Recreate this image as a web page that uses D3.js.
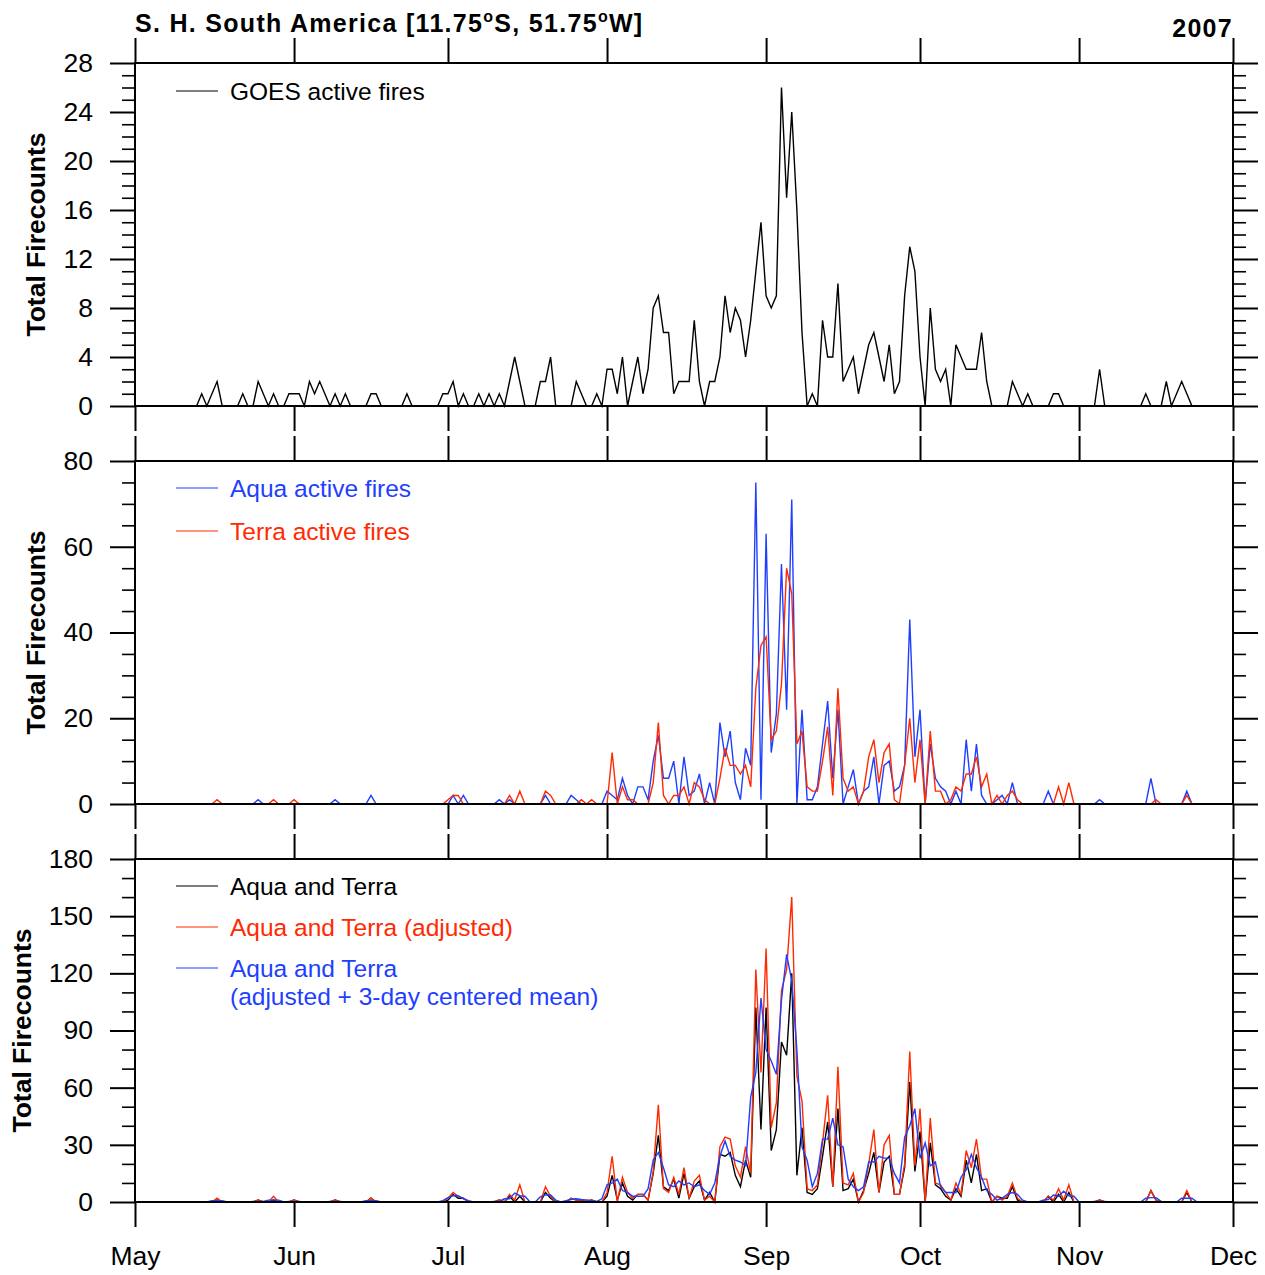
<!DOCTYPE html>
<html>
<head>
<meta charset="utf-8">
<script src="https://cdn.jsdelivr.net/npm/d3@7"></script>
<style>
  body { margin: 0; background: #fff; }
  svg { display: block; font-family: "Liberation Sans", Arial, Helvetica, sans-serif; }
</style>
</head>
<body>
<div class="vis"></div>
<script>
(function() {
  'use strict';

  // daily values, 1 May .. 30 Nov 2007 (one row per month)
  var goesFires = [].concat(
    [0,0,0,0,0,0,0,0,0,0, 0,0,0,1,0,1,2,0,0,0, 0,1,0,0,2,1,0,1,0,0, 1],
    [1,1,0,2,1,2,1,0,1,0, 1,0,0,0,0,1,1,0,0,0, 0,0,1,0,0,0,0,0,0,1],
    [1,2,0,1,0,0,1,0,1,0, 1,0,2,4,2,0,0,0,2,2, 4,0,0,0,0,2,1,0,0,1, 0],
    [3,3,1,4,0,2,4,1,3,8, 9,6,6,1,2,2,2,7,2,0, 2,2,4,9,6,8,7,4,7,11, 15],
    [9,8,9,26,17,24,16,6,0,1, 0,7,4,4,10,2,3,4,1,3, 5,6,4,2,5,1,2,9,13,11],
    [4,0,8,3,2,3,0,5,4,3, 3,3,6,2,0,0,0,0,2,1, 0,1,0,0,0,0,1,1,0,0, 0],
    [0,0,0,0,3,0,0,0,0,0, 0,0,0,1,0,0,0,2,0,1, 2,1,0,0,0,0,0,0,0,0]
  );

  var aquaFires = [].concat(
    [0,0,0,0,0,0,0,0,0,0, 0,0,0,0,0,0,0,0,0,0, 0,0,0,0,1,0,0,0,0,0, 0],
    [0,0,0,0,0,0,0,0,1,0, 0,0,0,0,0,2,0,0,0,0, 0,0,0,0,0,0,0,0,0,0],
    [0,2,0,2,0,0,0,0,0,0, 1,0,1,0,0,0,0,0,0,2, 0,0,0,0,2,1,0,0,0,0, 0],
    [3,2,1,6,2,0,4,4,1,10, 16,6,6,10,0,11,2,3,7,0, 5,0,19,11,17,5,1,13,9,75, 1],
    [63,12,21,56,22,71,0,22,1,1, 4,14,24,6,22,0,4,8,0,3, 4,11,0,9,10,3,4,9,43,11],
    [22,0,14,6,4,3,0,3,0,15, 3,14,2,0,0,1,2,0,5,0, 0,0,0,0,0,3,0,0,0,0, 0],
    [0,0,0,0,1,0,0,0,0,0, 0,0,0,0,6,0,0,0,0,0, 0,3,0,0,0,0,0,0,0,0]
  );

  var terraFires = [].concat(
    [0,0,0,0,0,0,0,0,0,0, 0,0,0,0,0,0,1,0,0,0, 0,0,0,0,0,0,0,1,0,0, 0],
    [1,0,0,0,0,0,0,0,0,0, 0,0,0,0,0,0,0,0,0,0, 0,0,0,0,0,0,0,0,0,0],
    [1,2,2,0,0,0,0,0,0,0, 0,0,2,0,3,0,0,0,0,3, 2,0,0,0,0,0,1,0,1,0, 0],
    [0,12,0,4,1,1,0,0,0,5, 19,2,0,2,2,4,0,5,4,1, 0,0,6,13,9,9,7,9,4,27, 37],
    [39,15,17,28,55,49,14,17,4,3, 3,10,18,2,27,6,3,4,0,3, 11,15,5,12,14,1,0,9,20,5],
    [15,0,17,3,3,0,1,4,3,7, 7,11,4,7,0,2,0,2,3,1, 0,0,0,0,0,0,0,4,0,5, 0],
    [0,0,0,0,0,0,0,0,0,0, 0,0,0,0,0,1,0,0,0,0, 0,2,0,0,0,0,0,0,0,0]
  );

  var bothFires = [].concat(
    [0,0,0,0,0,0,0,0,0,0, 0,0,0,0,0,0,1,0,0,0, 0,0,0,0,1,0,0,1,0,0, 0],
    [1,0,0,0,0,0,0,0,1,0, 0,0,0,0,0,2,0,0,0,0, 0,0,0,0,0,0,0,0,0,0],
    [1,4,2,2,0,0,0,0,0,0, 1,0,3,0,3,0,0,0,0,5, 2,0,0,0,2,1,1,0,1,0, 0],
    [3,14,1,10,3,1,4,4,1,15, 35,8,6,12,2,15,2,8,11,1, 5,0,25,24,26,14,8,22,13,102, 38],
    [102,27,38,84,77,120,14,39,5,4, 7,24,42,8,49,6,7,12,0,6, 15,26,5,21,24,4,4,18,63,16],
    [37,0,31,9,7,3,1,7,3,22, 10,25,6,7,0,3,2,2,8,1, 0,0,0,0,0,3,0,4,0,5, 0],
    [0,0,0,0,1,0,0,0,0,0, 0,0,0,0,6,1,0,0,0,0, 0,5,0,0,0,0,0,0,0,0]
  );

  var bothAdjusted = [].concat(
    [0,0,0,0,0,0,0,0,0,0, 0,0,0,0,0,0,2,0,0,0, 0,0,0,0,1,0,0,3,0,0, 0],
    [1,0,0,0,0,0,0,0,1,0, 0,0,0,0,0,2,0,0,0,0, 0,0,0,0,0,0,0,0,0,0],
    [2,5,3,2,0,0,0,0,0,0, 1,0,4,1,9,0,0,0,0,8, 3,0,0,0,2,1,1,1,1,0, 0],
    [5,24,0,13,5,2,4,4,1,16, 51,7,5,13,4,18,2,11,14,1, 3,0,29,34,33,19,13,29,15,122, 68],
    [133,39,52,111,122,160,66,53,7,6, 9,31,56,8,71,10,9,15,0,5, 20,38,5,30,35,4,4,20,79,19],
    [49,0,44,10,9,5,1,10,4,27, 18,33,12,12,0,3,1,3,10,2, 0,0,0,0,0,3,1,7,1,9, 0],
    [0,0,0,0,1,0,0,0,0,0, 0,0,0,0,6,1,0,0,0,0, 0,6,0,0,0,0,0,0,0,0]
  );

  var bothMean = [].concat(
    [0,0,0,0,0,0,0,0,0,0, 0,0,0,0,0,0.7,0.7,0.7,0,0, 0,0,0,0.3,0.3,0.3,1,1,1,0, 0.3],
    [0.3,0.3,0,0,0,0,0,0.3,0.3,0.3, 0,0,0,0,0.7,0.7,0.7,0,0,0, 0,0,0,0,0,0,0,0,0,0.7],
    [2.3,3.3,3.3,1.7,0.7,0,0,0,0,0.3, 0.3,1.7,1.7,4.7,3.3,3,0,0,2.7,3.7, 3.7,1,0,0.7,1.3,1.7,1.3,1,0.7,0.3, 1.7],
    [9,10,12,6,5,3,3,3,7,22, 26,18,9,8,11,9,10,8,9,6, 4,10,24,32,24,22,21,19,55,68, 107],
    [80,74,67,106,130,116,80,29,22,8, 15,33,33,44,30,29,12,8,6,8, 21,21,24,23,23,15,10,34,40,49],
    [23,31,19,21,8,5,5,5,13,17, 25,18,13,6,4,1,2,4,5,4, 1,0,0,0,1,1.3,3.7,3,5.7,3.3, 3],
    [0,0,0,0.3,0.3,0.3,0,0,0,0, 0,0,0,2,2.3,2.3,0.3,0,0,0, 2,2,2,0,0,0,0,0,0,0]
  );

  var monthLabels = ['May', 'Jun', 'Jul', 'Aug', 'Sep', 'Oct', 'Nov', 'Dec'];

  var black = '#000000', blue = '#1f3fff', red = '#ff2a00';

  var W = 1265, H = 1275,
    left = 135, right = 1233,
    panelH = 343;

  var svg = d3.select('.vis').append('svg')
    .attr('width', W)
    .attr('height', H);

  var start = new Date(Date.UTC(2007, 4, 1)),
    end = new Date(Date.UTC(2007, 11, 1));

  var days = d3.range(goesFires.length).map(function(i) {
    return new Date(Date.UTC(2007, 4, 1 + i));
  });

  var x = d3.scaleUtc().domain([start, end]).range([left, right]);
  var months = d3.utcMonths(start, new Date(Date.UTC(2007, 11, 2)));

  function panel(opt) {
    var top = opt.top;
    var y = d3.scaleLinear().domain([0, opt.yMax]).range([top + panelH, top]);
    var g = svg.append('g');

    var line = d3.line()
      .x(function(d, i) { return x(days[i]); })
      .y(function(d) { return y(d); });

    opt.series.forEach(function(s) {
      g.append('path')
        .datum(s.values)
        .attr('fill', 'none')
        .attr('stroke', s.color)
        .attr('stroke-width', 1.4)
        .attr('d', line);
    });

    // legend
    opt.series.forEach(function(s, i) {
      var ly = top + opt.legendY[i];
      g.append('line')
        .attr('x1', 176).attr('x2', 218)
        .attr('y1', ly).attr('y2', ly)
        .attr('stroke', s.color)
        .attr('stroke-width', 1.2);
      var t = g.append('text')
        .attr('x', 230).attr('y', ly)
        .attr('fill', s.color)
        .style('font-size', '24.5px');
      s.label.forEach(function(l, j) {
        t.append('tspan')
          .attr('x', 230)
          .attr('dy', j === 0 ? '0.35em' : '28')
          .text(l);
      });
    });

    var majors = d3.range(0, opt.yMax + 0.001, opt.major),
      minors = d3.range(0, opt.yMax + 0.001, opt.minor).filter(function(v) {
        return majors.indexOf(v) < 0;
      });

    function style(a) {
      a.select('.domain').remove();
      a.selectAll('line').attr('stroke', '#000').attr('stroke-width', 2);
      a.selectAll('text')
        .attr('fill', '#000')
        .style('font-size', '26.5px')
        .style('font-family', '"Liberation Sans", Arial, Helvetica, sans-serif');
      return a;
    }

    style(g.append('g')
      .attr('transform', 'translate(' + left + ',0)')
      .call(d3.axisLeft(y).tickValues(majors).tickSize(25).tickPadding(17)));
    style(g.append('g')
      .attr('transform', 'translate(' + left + ',0)')
      .call(d3.axisLeft(y).tickValues(minors).tickSize(13).tickFormat('')))
      .selectAll('line').attr('stroke-width', 1.6);
    style(g.append('g')
      .attr('transform', 'translate(' + right + ',0)')
      .call(d3.axisRight(y).tickValues(majors).tickSize(25).tickFormat('')));
    style(g.append('g')
      .attr('transform', 'translate(' + right + ',0)')
      .call(d3.axisRight(y).tickValues(minors).tickSize(13).tickFormat('')))
      .selectAll('line').attr('stroke-width', 1.6);

    style(g.append('g')
      .attr('transform', 'translate(0,' + top + ')')
      .call(d3.axisTop(x).tickValues(months).tickSize(25).tickFormat('')));
    style(g.append('g')
      .attr('transform', 'translate(0,' + (top + panelH) + ')')
      .call(d3.axisBottom(x).tickValues(months).tickSize(25).tickPadding(19)
        .tickFormat(function(d, i) { return opt.xLabels ? monthLabels[i] : ''; })));

    g.append('rect')
      .attr('x', left).attr('y', top)
      .attr('width', right - left).attr('height', panelH)
      .attr('fill', 'none')
      .attr('stroke', '#000')
      .attr('stroke-width', 2);

    g.append('text')
      .attr('transform', 'translate(' + opt.titleX + ',' + (top + panelH / 2) + ') rotate(-90)')
      .attr('text-anchor', 'middle')
      .attr('dy', '0.35em')
      .style('font-size', '26.5px')
      .style('font-weight', 'bold')
      .text('Total Firecounts');
  }

  panel({
    top: 63, yMax: 28, major: 4, minor: 1, titleX: 36,
    legendY: [28],
    series: [
      {values: goesFires, color: black, label: ['GOES active fires']}
    ]
  });

  panel({
    top: 461, yMax: 80, major: 20, minor: 5, titleX: 36,
    legendY: [27, 70],
    series: [
      {values: aquaFires, color: blue, label: ['Aqua active fires']},
      {values: terraFires, color: red, label: ['Terra active fires']}
    ]
  });

  panel({
    top: 859, yMax: 180, major: 30, minor: 10, titleX: 22, xLabels: true,
    legendY: [27, 68, 109],
    series: [
      {values: bothFires, color: black, label: ['Aqua and Terra']},
      {values: bothAdjusted, color: red, label: ['Aqua and Terra (adjusted)']},
      {values: bothMean, color: blue, label: ['Aqua and Terra', '(adjusted + 3-day centered mean)']}
    ]
  });

  // title
  var title = svg.append('text')
    .attr('x', left).attr('y', 32)
    .style('font-size', '25px')
    .style('letter-spacing', '1.3px')
    .style('font-weight', 'bold');
  title.append('tspan').text('S. H. South America [11.75');
  title.append('tspan').attr('dy', -10).style('font-size', '16px').text('o');
  title.append('tspan').attr('dy', 10).text('S, 51.75');
  title.append('tspan').attr('dy', -10).style('font-size', '16px').text('o');
  title.append('tspan').attr('dy', 10).text('W]');

  svg.append('text')
    .attr('x', right).attr('y', 37)
    .attr('text-anchor', 'end')
    .style('font-size', '25px')
    .style('letter-spacing', '1.3px')
    .style('font-weight', 'bold')
    .text('2007');
}());
</script>
</body>
</html>
